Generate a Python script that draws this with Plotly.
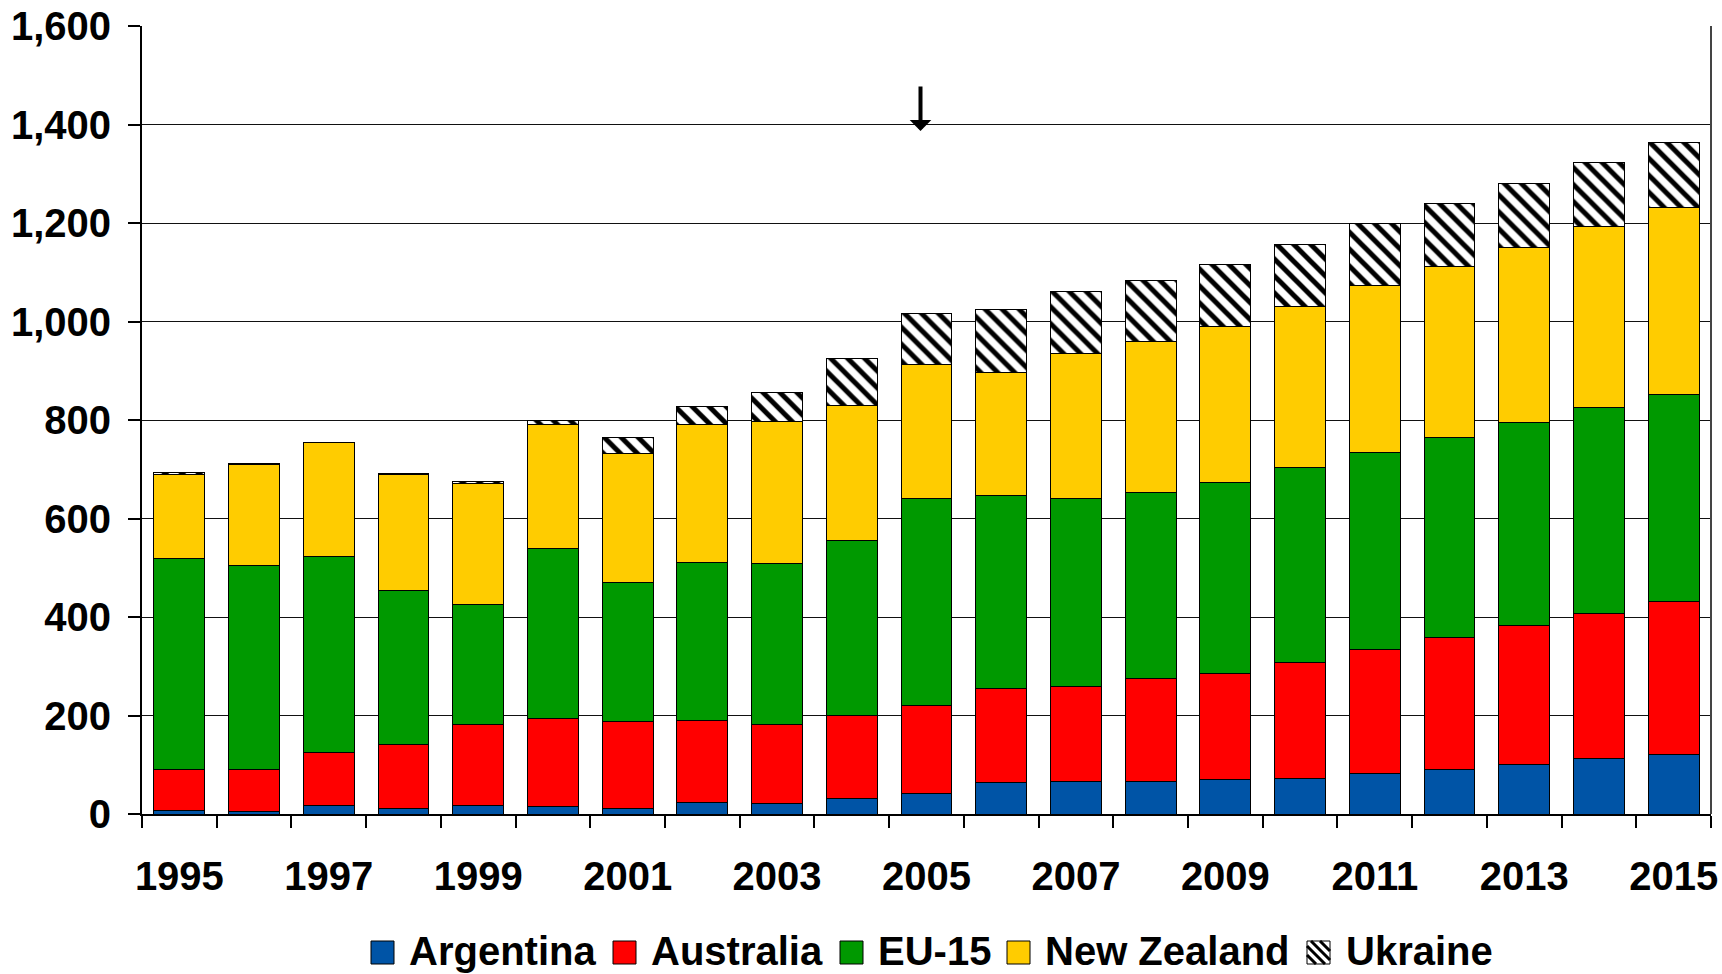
import plotly.graph_objects as go

# Annual volumes by supplier, 1995-2015
years = [str(y) for y in range(1995, 2016)]

argentina = [8, 5, 18, 12, 18, 15, 12, 24, 21, 31, 42, 64, 66, 66, 70, 73, 82, 91, 100, 112, 121]
australia = [82, 85, 106, 129, 163, 178, 175, 165, 160, 168, 178, 190, 193, 209, 216, 235, 253, 268, 283, 296, 311]
eu15 = [429, 414, 398, 312, 244, 347, 284, 321, 327, 356, 420, 392, 381, 377, 388, 396, 399, 405, 411, 417, 419]
new_zealand = [170, 205, 233, 236, 247, 250, 262, 281, 289, 274, 272, 250, 296, 307, 316, 326, 339, 347, 356, 367, 381]
ukraine = [5, 3, 0, 3, 3, 10, 31, 36, 59, 95, 105, 128, 124, 125, 125, 127, 126, 128, 131, 131, 131]

series_names = ["Argentina", "Australia", "EU-15", "New Zealand", "Ukraine"]
series_values = [argentina, australia, eu15, new_zealand, ukraine]
series_colors = ["#0054A6", "#FF0000", "#009900", "#FFCC00", "#FFFFFF"]

y_ticks = [0, 200, 400, 600, 800, 1000, 1200, 1400, 1600]
x_ticktext = [y if i % 2 == 0 else "" for i, y in enumerate(years)]

FONT = "Liberation Sans, Arial, sans-serif"

# plot-area geometry in page pixels
W, H = 1722, 974
L, R, T, B = 142, 1711, 26, 814


def px_x(p):
    return (p - L) / (R - L)


def px_y(p):
    return (B - p) / (B - T)


fig = go.Figure()
for name, vals, col in zip(series_names, series_values, series_colors):
    marker = dict(color=col, line=dict(color="#000000", width=1))
    if name == "Ukraine":
        marker["pattern"] = dict(shape="\\", fgcolor="#000000", bgcolor="#FFFFFF",
                                 size=12, solidity=0.42, fillmode="replace")
    fig.add_trace(go.Bar(x=years, y=vals, name=name, marker=marker, showlegend=False))

# Arrow pointing at the 2005 column
fig.add_annotation(x=years.index("2005"), y=1387, xref="x", yref="y", text="", showarrow=True,
                   ax=0, ay=-46, arrowhead=1, arrowsize=0.9, arrowwidth=4,
                   arrowcolor="#000000", xshift=-6)

# Legend row drawn below the axis
shapes = []
annotations = []
legend_sq_x = [371, 613, 840, 1007, 1307]
legend_txt_x = [407, 649, 876, 1043, 1344]
sq = 23
sy0, sy1 = 941, 941 + sq
for name, col, sx, tx in zip(series_names, series_colors, legend_sq_x, legend_txt_x):
    shapes.append(dict(type="rect", xref="paper", yref="paper",
                       x0=px_x(sx), x1=px_x(sx + sq), y0=px_y(sy1), y1=px_y(sy0),
                       fillcolor=col, line=dict(color="#000000", width=1)))
    if name == "Ukraine":
        for d in (-14, -5, 4, 13):
            t0 = max(0, -d)
            t1 = min(sq, sq - d)
            if t1 <= t0:
                continue
            shapes.append(dict(type="line", xref="paper", yref="paper",
                               x0=px_x(sx + d + t0), y0=px_y(sy0 + t0),
                               x1=px_x(sx + d + t1), y1=px_y(sy0 + t1),
                               line=dict(color="#000000", width=3)))
    annotations.append(dict(text=name, xref="paper", yref="paper",
                            x=px_x(tx), y=px_y(951), xanchor="left", yanchor="middle",
                            showarrow=False,
                            font=dict(family=FONT, size=40, color="#000000", weight="bold")))

# right border line
shapes.append(dict(type="line", xref="paper", yref="paper", x0=1, x1=1, y0=0, y1=1,
                   line=dict(color="#444444", width=2)))

for a in annotations:
    fig.add_annotation(**a)

fig.update_layout(
    width=W, height=H,
    margin=dict(l=L, r=W - R, t=T, b=H - B, pad=0, autoexpand=False),
    barmode="stack",
    bargap=0.32,
    plot_bgcolor="#FFFFFF",
    paper_bgcolor="#FFFFFF",
    shapes=shapes,
    font=dict(family=FONT, color="#000000"),
    xaxis=dict(
        type="category",
        range=[-0.5, len(years) - 0.5],
        tickmode="array", tickvals=years, ticktext=x_ticktext,
        tickson="boundaries", ticks="outside", ticklen=12, tickwidth=1.5, tickcolor="#000000",
        showline=True, linecolor="#000000", linewidth=2,
        showgrid=False,
        tickfont=dict(family=FONT, size=40, color="#000000", weight="bold"),
        ticklabelstandoff=26,
        tickangle=0,
        automargin=False,
    ),
    yaxis=dict(
        range=[0, 1600],
        tickmode="array", tickvals=y_ticks,
        tickformat=",",
        ticks="outside", ticklen=12, tickwidth=1.5, tickcolor="#000000",
        showline=True, linecolor="#000000", linewidth=2,
        showgrid=True, gridcolor="#111111", gridwidth=1.2,
        zeroline=False,
        tickfont=dict(family=FONT, size=40, color="#000000", weight="bold"),
        ticklabelstandoff=9,
        automargin=False,
    ),
)

fig.write_html("out.html")
